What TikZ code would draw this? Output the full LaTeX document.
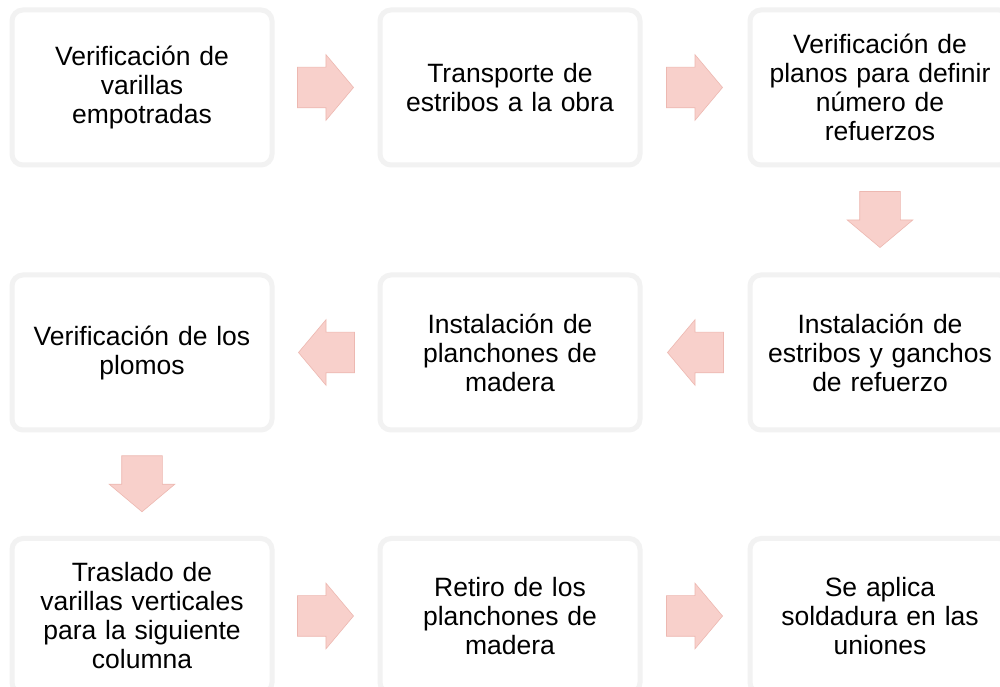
\documentclass[tikz,border=0pt]{standalone}
\usepackage{fontspec}
\setmainfont{Liberation Sans}
\usetikzlibrary{shapes.arrows,calc}
\definecolor{arrfill}{HTML}{F8D0CB}
\definecolor{arrdraw}{HTML}{EDB8B1}
\definecolor{boxedge}{HTML}{D6D6D6}
\begin{document}
\begin{tikzpicture}[x=1pt,y=1pt,
  stepbox/.style={draw=boxedge, line width=1.2pt, fill=white, rounded corners=11pt,
    minimum width=260pt, minimum height=155pt, text width=250pt, align=center,
    font=\fontsize{26.5}{29}\selectfont, inner sep=0pt,
    postaction={draw=gray!10, line width=5pt, rounded corners=11pt}},
  blockarrow/.style={single arrow, fill=arrfill, draw=arrdraw, line width=0.6pt,
    minimum height=56pt, minimum width=65pt, inner xsep=0pt, inner ysep=20pt,
    single arrow head extend=12.5pt, single arrow tip angle=100, text width=0pt}
]
\useasboundingbox (0,0) rectangle (1000,687);
\fill[white] (0,0) rectangle (1000,687);
% row 1
\node[stepbox] (b1) at (142,599.5) {Verificación de\\varillas\\empotradas};
\node[stepbox] (b2) at (510,599.5) {Transporte de\\estribos a la obra};
\node[stepbox] (b3) at (880,599.5) {Verificación de\\planos para definir\\número de\\refuerzos};
% row 2
\node[stepbox] (b4) at (880,334.5) {Instalación de\\estribos y ganchos\\de refuerzo};
\node[stepbox] (b5) at (510,334.5) {Instalación de\\planchones de\\madera};
\node[stepbox] (b6) at (142,334.5) {Verificación de los\\plomos};
% row 3
\node[stepbox] (b7) at (142,71) {Traslado de\\varillas verticales\\para la siguiente\\columna};
\node[stepbox] (b8) at (510,71) {Retiro de los\\planchones de\\madera};
\node[stepbox] (b9) at (880,71) {Se aplica\\soldadura en las\\uniones};
% arrows
\node[blockarrow] (a1) at ($(b1.east)!0.5!(b2.west)+(-9,0)$) {};
\node[blockarrow] (a2) at ($(b2.east)!0.5!(b3.west)+(-9,0)$) {};
\node[blockarrow, rotate=-90] (a3) at ($(b3.south)!0.5!(b4.north)+(0,9)$) {};
\node[blockarrow, rotate=180] (a4) at ($(b4.west)!0.5!(b5.east)+(9,0)$) {};
\node[blockarrow, rotate=180] (a5) at ($(b5.west)!0.5!(b6.east)+(9,0)$) {};
\node[blockarrow, rotate=-90] (a6) at ($(b6.south)!0.5!(b7.north)+(0,9)$) {};
\node[blockarrow] (a7) at ($(b7.east)!0.5!(b8.west)+(-9,0)$) {};
\node[blockarrow] (a8) at ($(b8.east)!0.5!(b9.west)+(-9,0)$) {};
\end{tikzpicture}
\end{document}
